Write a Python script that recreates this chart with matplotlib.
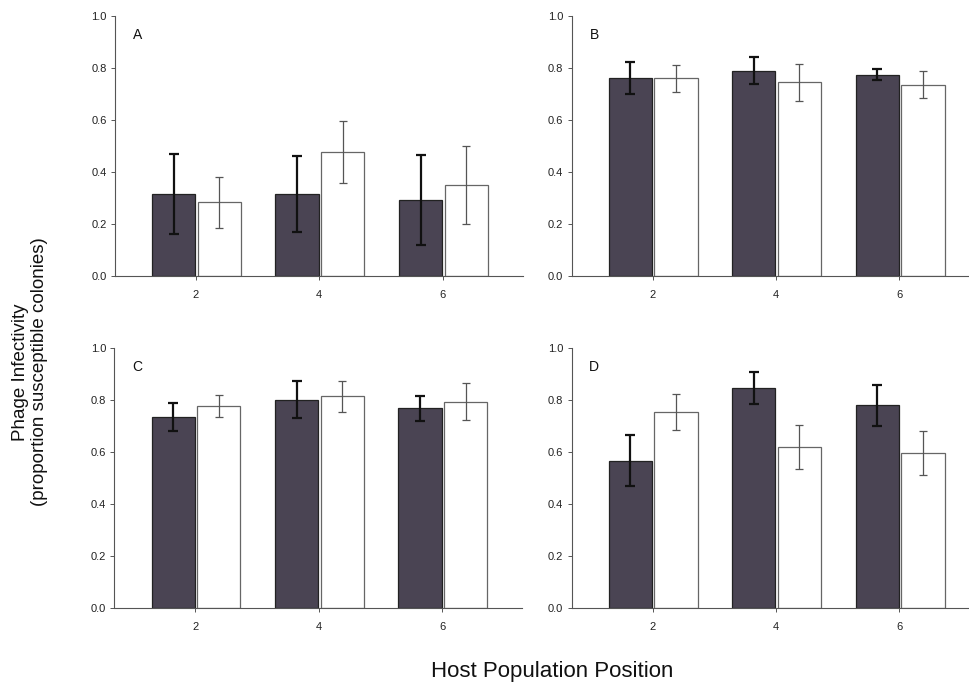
import matplotlib
matplotlib.use('Agg')
import matplotlib.pyplot as plt

plt.rcParams['font.family'] = ['Liberation Sans', 'DejaVu Sans']

# ---- data ----
positions = [2, 4, 6]
panel_labels = ['A', 'B', 'C', 'D']

dark_means = {
    'A': [0.317, 0.317, 0.294],
    'B': [0.761, 0.790, 0.774],
    'C': [0.735, 0.801, 0.767],
    'D': [0.567, 0.846, 0.779],
}
dark_err = {
    'A': [0.153, 0.146, 0.172],
    'B': [0.060, 0.053, 0.022],
    'C': [0.055, 0.070, 0.047],
    'D': [0.097, 0.062, 0.078],
}
white_means = {
    'A': [0.284, 0.478, 0.349],
    'B': [0.760, 0.744, 0.735],
    'C': [0.777, 0.814, 0.792],
    'D': [0.754, 0.618, 0.596],
}
white_err = {
    'A': [0.099, 0.120, 0.150],
    'B': [0.053, 0.072, 0.052],
    'C': [0.041, 0.059, 0.071],
    'D': [0.068, 0.084, 0.085],
}

yticks = [0.0, 0.2, 0.4, 0.6, 0.8, 1.0]

# ---- layout (figure fractions) ----
W, H = 970, 684
fig = plt.figure(figsize=(W / 100, H / 100), dpi=100)
ax_w = 408 / W
ax_h = 260.5 / H
lefts = {'A': 115 / W, 'B': 571.7 / W, 'C': 114.5 / W, 'D': 571.7 / W}
bottoms = {'A': 1 - 276.3 / H, 'B': 1 - 276.3 / H, 'C': 1 - 608.3 / H, 'D': 1 - 608.3 / H}

bw = 0.70
dark_col = '#4a4453'
axis_col = '#555555'

for p in panel_labels:
    ax = fig.add_axes([lefts[p], bottoms[p], ax_w, ax_h])
    xd = [x - 0.36 for x in positions]
    xw = [x + 0.38 for x in positions]
    ax.bar(xd, dark_means[p], width=bw, color=dark_col, edgecolor='#222222',
           linewidth=0.9, zorder=2)
    ax.bar(xw, white_means[p], width=bw, color='white', edgecolor='#666666',
           linewidth=0.9, zorder=2)
    ax.errorbar(xd, dark_means[p], yerr=dark_err[p], fmt='none', ecolor='#111111',
                elinewidth=1.6, capsize=3.5, capthick=1.6, zorder=3)
    ax.errorbar(xw, white_means[p], yerr=white_err[p], fmt='none', ecolor='#555555',
                elinewidth=0.9, capsize=3.2, capthick=0.9, zorder=3)

    ax.set_xlim(0.69, 7.3)
    ax.set_ylim(0, 1.0)
    ax.set_xticks(positions)
    ax.set_yticks(yticks)
    ax.set_yticklabels([f'{v:.1f}' for v in yticks])
    for s in ['top', 'right']:
        ax.spines[s].set_visible(False)
    for s in ['left', 'bottom']:
        ax.spines[s].set_color(axis_col)
        ax.spines[s].set_linewidth(0.8)
    ax.tick_params(axis='both', direction='out', length=3, width=0.7,
                   color=axis_col, labelsize=8, labelcolor='#222222', pad=3)
    ax.tick_params(axis='x', pad=7)
    ax.text(0.055, 0.925, p, transform=ax.transAxes, fontsize=10,
            ha='center', va='center', color='#111111')

fig.text(30 / W, 1 - 372 / H, 'Phage Infectivity\n(proportion susceptible colonies)',
         rotation=90, ha='center', va='center', fontsize=13.5, linespacing=1.1,
         color='#111111')
fig.text(552 / W, 1 - 671 / H, 'Host Population Position', ha='center',
         va='center', fontsize=16, color='#111111')

plt.savefig('out.png', dpi=100)
